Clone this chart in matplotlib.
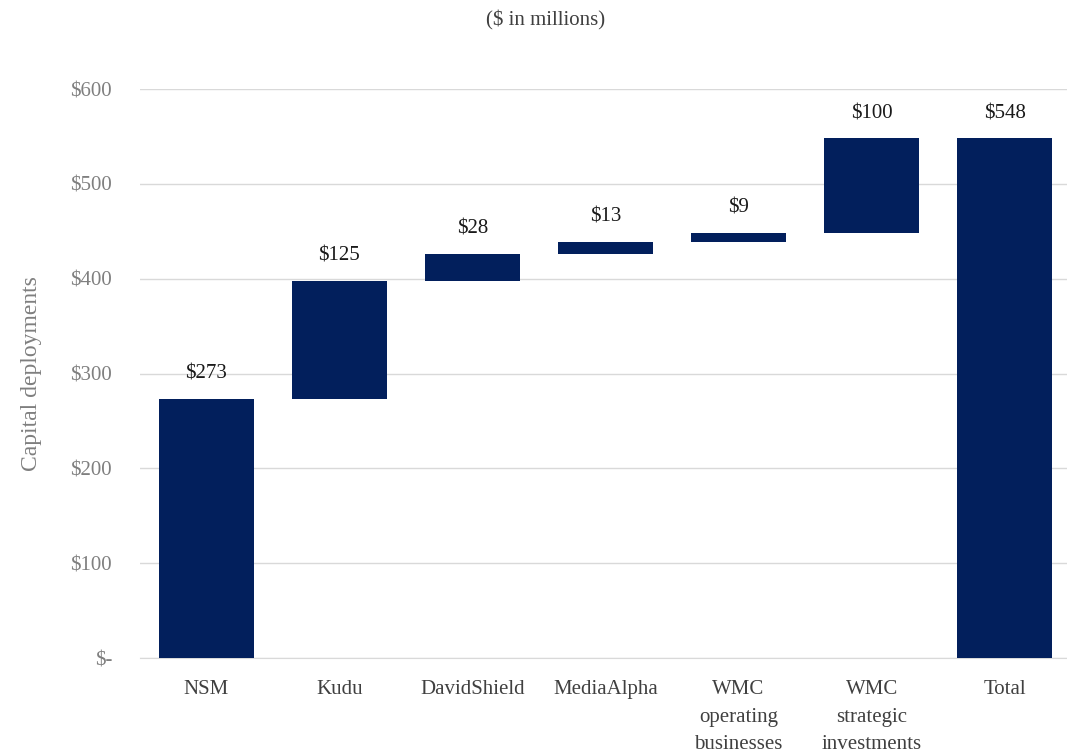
import matplotlib.pyplot as plt
from matplotlib.ticker import FuncFormatter

# ── Data ────────────────────────────────────────────────────
categories = ['NSM', 'Kudu', 'DavidShield', 'MediaAlpha',
              'WMC\noperating\nbusinesses', 'WMC\nstrategic\ninvestments', 'Total']
steps = [273, 125, 28, 13, 9, 100]
total = 548
y_ticks = [0, 100, 200, 300, 400, 500, 600]

NAVY = '#021f5c'
GRAY = '#7f7f7f'

plt.rcParams['font.family'] = ['Liberation Serif', 'DejaVu Serif']

# waterfall bottoms / heights
bottoms = []
running = 0
for v in steps:
    bottoms.append(running)
    running += v
heights = steps + [total]
bottoms = bottoms + [0]
labels = [f'${v}' for v in heights]

fig = plt.figure(figsize=(10.67, 7.56), dpi=100)
ax = fig.add_axes([0.131, 0.1296, 0.873, 0.7526])

x = range(len(categories))
ax.bar(x, heights, bottom=bottoms, width=0.71, color=NAVY, zorder=3)

for xi, b, h, lab in zip(x, bottoms, heights, labels):
    ax.annotate(lab, (xi, b + h), xytext=(0, 11), textcoords='offset points',
                ha='center', va='bottom', fontsize=15, color='#1a1a1a')

ax.set_xlim(-0.5, 6.5)
ax.set_ylim(0, 600)
ax.set_yticks(y_ticks)
ax.yaxis.set_major_formatter(FuncFormatter(lambda v, p: '$-' if v == 0 else f'${int(v)}'))
ax.set_xticks(list(x))
ax.set_xticklabels(categories, fontsize=15, color='#404040', linespacing=1.6, va='top')

ax.grid(axis='y', color='#d9d9d9', linewidth=1, zorder=0)
for s in ['top', 'right', 'left']:
    ax.spines[s].set_visible(False)
ax.spines['bottom'].set_color('#d9d9d9')
ax.tick_params(axis='y', length=0, pad=20, labelsize=15, labelcolor=GRAY)
ax.tick_params(axis='x', length=0, pad=16)

ax.set_ylabel('Capital deployments', fontsize=17, color=GRAY, labelpad=20)
fig.text(0.511, 0.973, '($ in millions)', ha='center', va='center',
         fontsize=15, color='#404040')

plt.savefig('out.png', dpi=100)
